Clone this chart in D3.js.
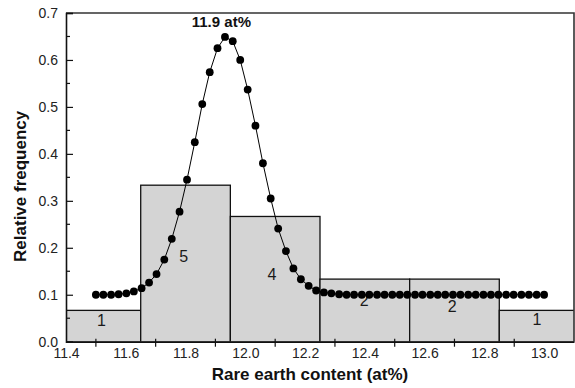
<!DOCTYPE html>
<html>
<head>
<meta charset="utf-8">
<script src="https://cdn.jsdelivr.net/npm/d3@7"></script>
<style>
  body { margin: 0; background: #fff; }
  svg { display: block; font-family: "Liberation Sans", Arial, sans-serif; }
</style>
</head>
<body>
<svg id="chart"></svg>
<script>
// histogram bins (centre, count-based relative frequency)
const binCenters = [11.5, 11.8, 12.1, 12.4, 12.7, 13.0]
const binWidth = 0.3
const binFreq = [0.0667, 0.3333, 0.2667, 0.1333, 0.1333, 0.0667]
const binCounts = ["1", "5", "4", "2", "2", "1"]
// where the count numbers sit (data units)
const countX = [11.519, 11.794, 12.089, 12.398, 12.692, 12.976]
const countY = [0.046, 0.182, 0.143, 0.088, 0.076, 0.048]

// fitted distribution, read point by point
const curveX = [
  11.500, 11.525, 11.551, 11.576, 11.602, 11.627, 11.653, 11.678, 11.703, 11.729,
  11.754, 11.780, 11.805, 11.831, 11.856, 11.881, 11.907, 11.932, 11.958, 11.983,
  12.008, 12.034, 12.059, 12.085, 12.110, 12.136, 12.161, 12.186, 12.212, 12.237,
  12.263, 12.288, 12.314, 12.339, 12.364, 12.390, 12.415, 12.441, 12.466, 12.492,
  12.517, 12.542, 12.568, 12.593, 12.619, 12.644, 12.669, 12.695, 12.720, 12.746,
  12.771, 12.797, 12.822, 12.847, 12.873, 12.898, 12.924, 12.949, 12.975, 13.000
]
const curveY = [
  0.100, 0.100, 0.100, 0.101, 0.103, 0.107, 0.114, 0.126, 0.144, 0.175,
  0.219, 0.277, 0.345, 0.425, 0.506, 0.574, 0.625, 0.649, 0.640, 0.600,
  0.537, 0.460, 0.380, 0.305, 0.241, 0.193, 0.156, 0.133, 0.119, 0.109,
  0.105, 0.103, 0.101, 0.100, 0.100, 0.100, 0.100, 0.100, 0.100, 0.100,
  0.100, 0.100, 0.100, 0.100, 0.100, 0.100, 0.100, 0.100, 0.100, 0.100,
  0.100, 0.100, 0.100, 0.100, 0.100, 0.100, 0.100, 0.100, 0.100, 0.100
]

const xMajor = [11.4, 11.6, 11.8, 12.0, 12.2, 12.4, 12.6, 12.8, 13.0]
const xMinor = [11.5, 11.7, 11.9, 12.1, 12.3, 12.5, 12.7, 12.9]
const yMajor = [0, 0.1, 0.2, 0.3, 0.4, 0.5, 0.6, 0.7]
const yMinor = [0.05, 0.15, 0.25, 0.35, 0.45, 0.55, 0.65]

const peakLabel = { x: 11.92, y: 0.67, text: "11.9 at%" }

const width = 575
const height = 388
const margin = { top: 13, right: 1, bottom: 46.3, left: 66 }

const svg = d3.select("#chart")
  .attr("width", width)
  .attr("height", height)
  .attr("viewBox", [0, 0, width, height])

const x = d3.scaleLinear()
  .domain([11.4, 13.1])
  .range([margin.left, width - margin.right])

const y = d3.scaleLinear()
  .domain([0, 0.7])
  .range([height - margin.bottom, margin.top])

const plot = svg.append("g")
  .attr("clip-path", "url(#plotClip)")

svg.append("clipPath")
  .attr("id", "plotClip")
  .append("rect")
  .attr("x", x.range()[0])
  .attr("y", y.range()[1])
  .attr("width", x.range()[1] - x.range()[0])
  .attr("height", y.range()[0] - y.range()[1])

// bars
plot.append("g")
  .selectAll("rect")
  .data(binCenters)
  .join("rect")
  .attr("x", (d) => x(d - binWidth / 2))
  .attr("y", (d, i) => y(binFreq[i]))
  .attr("width", (d) => x(d + binWidth / 2) - x(d - binWidth / 2))
  .attr("height", (d, i) => y(0) - y(binFreq[i]))
  .attr("fill", "#d4d4d4")
  .attr("stroke", "#111")
  .attr("stroke-width", 1.3)

// count labels
svg.append("g")
  .selectAll("text")
  .data(binCounts)
  .join("text")
  .attr("x", (d, i) => x(countX[i]))
  .attr("y", (d, i) => y(countY[i]))
  .attr("dy", "0.36em")
  .attr("text-anchor", "middle")
  .attr("font-size", 16)
  .attr("fill", "#1a1a1a")
  .text((d) => d)

// curve
const points = curveX.map((d, i) => [d, curveY[i]])

svg.append("path")
  .datum(points)
  .attr("fill", "none")
  .attr("stroke", "#000")
  .attr("stroke-width", 1)
  .attr("d", d3.line()
    .x((d) => x(d[0]))
    .y((d) => y(d[1])))

svg.append("g")
  .selectAll("circle")
  .data(points)
  .join("circle")
  .attr("cx", (d) => x(d[0]))
  .attr("cy", (d) => y(d[1]))
  .attr("r", 3.9)
  .attr("fill", "#000")

svg.append("text")
  .attr("x", x(peakLabel.x))
  .attr("y", y(peakLabel.y))
  .attr("text-anchor", "middle")
  .attr("font-size", 15)
  .attr("font-weight", "bold")
  .attr("fill", "#111")
  .text(peakLabel.text)

// frame: top and right
svg.append("path")
  .attr("d", `M${x.range()[0]},${y.range()[1]}H${x.range()[1]}V${y.range()[0]}`)
  .attr("fill", "none")
  .attr("stroke", "#333")
  .attr("stroke-width", 1.6)

// x axis
const xAxis = svg.append("g")
  .attr("transform", `translate(0,${y(0)})`)
  .call(d3.axisBottom(x)
    .tickValues(xMajor)
    .tickSize(0)
    .tickPadding(6)
    .tickFormat(d3.format(".1f")))

xAxis.select(".domain")
  .attr("stroke", "#111")
  .attr("stroke-width", 1.6)

xAxis.selectAll("text")
  .attr("font-size", 14)
  .attr("font-family", "Liberation Sans, Arial, sans-serif")
  .attr("fill", "#222")

xAxis.append("g")
  .selectAll("line")
  .data(xMinor)
  .join("line")
  .attr("x1", (d) => x(d))
  .attr("x2", (d) => x(d))
  .attr("y1", -3)
  .attr("y2", 5)
  .attr("stroke", "#111")
  .attr("stroke-width", 1.2)

// y axis
const yAxis = svg.append("g")
  .attr("transform", `translate(${x(11.4)},0)`)
  .call(d3.axisLeft(y)
    .tickValues(yMajor)
    .tickSize(-7)
    .tickPadding(8)
    .tickFormat(d3.format(".1f")))

yAxis.select(".domain")
  .attr("stroke", "#111")
  .attr("stroke-width", 1.6)

yAxis.selectAll(".tick line")
  .attr("stroke", "#111")
  .attr("stroke-width", 1.2)

yAxis.selectAll("text")
  .attr("font-size", 14)
  .attr("font-family", "Liberation Sans, Arial, sans-serif")
  .attr("fill", "#222")

yAxis.append("g")
  .selectAll("line")
  .data(yMinor)
  .join("line")
  .attr("x1", 0)
  .attr("x2", 4)
  .attr("y1", (d) => y(d))
  .attr("y2", (d) => y(d))
  .attr("stroke", "#111")
  .attr("stroke-width", 1.2)

// axis titles
svg.append("text")
  .attr("x", 310)
  .attr("y", 380)
  .attr("text-anchor", "middle")
  .attr("font-size", 17)
  .attr("font-weight", "bold")
  .attr("fill", "#111")
  .text("Rare earth content (at%)")

svg.append("text")
  .attr("transform", `translate(26,${(y.range()[0] + y.range()[1]) / 2 + 9}) rotate(-90)`)
  .attr("text-anchor", "middle")
  .attr("font-size", 17)
  .attr("font-weight", "bold")
  .attr("fill", "#111")
  .text("Relative frequency")
</script>
</body>
</html>
